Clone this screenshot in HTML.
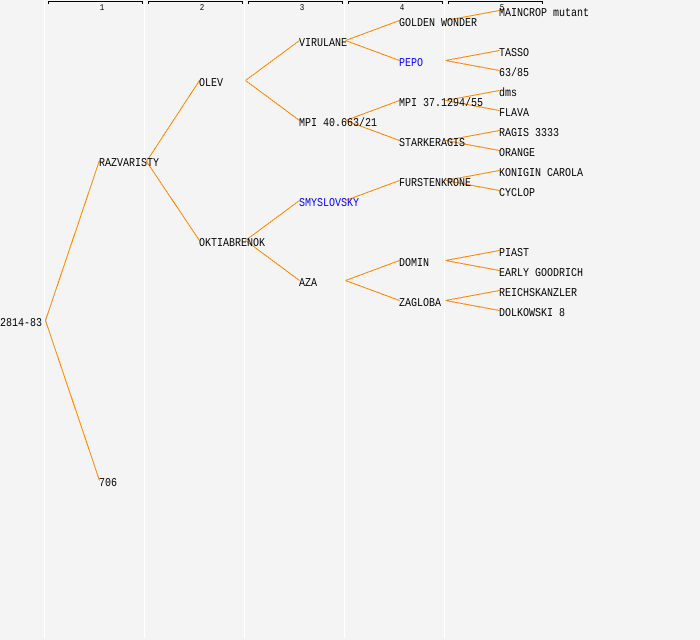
<!DOCTYPE html>
<html><head><meta charset="utf-8"><style>
html,body{margin:0;padding:0;background:#f4f4f4}
svg{display:block}
text{font-family:"Liberation Mono","DejaVu Sans Mono",monospace;font-size:12px;fill:#000;text-rendering:geometricPrecision}
.h{font-size:9px;text-anchor:middle}
.b{fill:#0000ff}
.o line{stroke:#ff8800;stroke-width:1;fill:none;shape-rendering:crispEdges}
.w rect{fill:#fff}
.k path{stroke:#000;fill:none;stroke-width:1;shape-rendering:crispEdges}
</style></head><body>
<svg width="700" height="640" viewBox="0 0 700 640" xmlns="http://www.w3.org/2000/svg">
<rect width="700" height="640" fill="#f4f4f4"/>
<g class="w"><rect x="44" y="0" width="1" height="638"/><rect x="144" y="0" width="1" height="638"/><rect x="244" y="0" width="1" height="638"/><rect x="344" y="0" width="1" height="638"/><rect x="444" y="0" width="1" height="638"/></g>
<g class="k">
<path d="M48.5 4V1.5H142.5V4"/><path d="M148.5 4V1.5H242.5V4"/><path d="M248.5 4V1.5H342.5V4"/><path d="M348.5 4V1.5H442.5V4"/><path d="M448.5 4V1.5H542.5V4"/>
</g>
<g transform="scale(.8333,1)">
<text class="h" x="122.4" y="10">1</text><text class="h" x="242.4" y="10">2</text><text class="h" x="362.4" y="10">3</text><text class="h" x="482.4" y="10">4</text><text class="h" x="602.4" y="10">5</text>
</g>
<g class="o">
<line x1="45.5" y1="320.5" x2="99.5" y2="160.5"/><line x1="45.5" y1="320.5" x2="99.5" y2="480.5"/>
<line x1="146.5" y1="161.5" x2="199.5" y2="80.5"/><line x1="146.5" y1="161.5" x2="199.5" y2="240.5"/>
<line x1="245.5" y1="80.5" x2="299.5" y2="40.5"/><line x1="245.5" y1="80.5" x2="299.5" y2="120.5"/>
<line x1="245.5" y1="240.5" x2="299.5" y2="200.5"/><line x1="245.5" y1="240.5" x2="299.5" y2="280.5"/>
<line x1="345.5" y1="40.5" x2="399.5" y2="20.5"/><line x1="345.5" y1="40.5" x2="399.5" y2="60.5"/>
<line x1="345.5" y1="120.5" x2="399.5" y2="100.5"/><line x1="345.5" y1="120.5" x2="399.5" y2="140.5"/>
<line x1="345.5" y1="200.5" x2="399.5" y2="180.5"/>
<line x1="345.5" y1="280.5" x2="399.5" y2="260.5"/><line x1="345.5" y1="280.5" x2="399.5" y2="300.5"/>
<line x1="445.5" y1="20.5" x2="499.5" y2="10.5"/>
<line x1="445.5" y1="60.5" x2="499.5" y2="50.5"/><line x1="445.5" y1="60.5" x2="499.5" y2="70.5"/>
<line x1="445.5" y1="100.5" x2="499.5" y2="90.5"/><line x1="445.5" y1="100.5" x2="499.5" y2="110.5"/>
<line x1="445.5" y1="140.5" x2="499.5" y2="130.5"/><line x1="445.5" y1="140.5" x2="499.5" y2="150.5"/>
<line x1="445.5" y1="180.5" x2="499.5" y2="170.5"/><line x1="445.5" y1="180.5" x2="499.5" y2="190.5"/>
<line x1="445.5" y1="260.5" x2="499.5" y2="250.5"/><line x1="445.5" y1="260.5" x2="499.5" y2="270.5"/>
<line x1="445.5" y1="300.5" x2="499.5" y2="290.5"/><line x1="445.5" y1="300.5" x2="499.5" y2="310.5"/>
</g>
<g transform="scale(.8333,1)">
<text x="0" y="326">2814-83</text>
<text x="118.8" y="166">RAZVARISTY</text><text x="118.8" y="486">706</text>
<text x="238.8" y="86">OLEV</text><text x="238.8" y="246">OKTIABRENOK</text>
<text x="358.8" y="46">VIRULANE</text><text x="358.8" y="126">MPI 40.663/21</text><text class="b" x="358.8" y="206">SMYSLOVSKY</text><text x="358.8" y="286">AZA</text>
<text x="478.8" y="26">GOLDEN WONDER</text><text class="b" x="478.8" y="66">PEPO</text><text x="478.8" y="106">MPI 37.1294/55</text><text x="478.8" y="146">STARKERAGIS</text><text x="478.8" y="186">FURSTENKRONE</text><text x="478.8" y="266">DOMIN</text><text x="478.8" y="306">ZAGLOBA</text>
<text x="598.8" y="16">MAINCROP mutant</text><text x="598.8" y="56">TASSO</text><text x="598.8" y="76">63/85</text><text x="598.8" y="96">dms</text><text x="598.8" y="116">FLAVA</text><text x="598.8" y="136">RAGIS 3333</text><text x="598.8" y="156">ORANGE</text><text x="598.8" y="176">KONIGIN CAROLA</text><text x="598.8" y="196">CYCLOP</text><text x="598.8" y="256">PIAST</text><text x="598.8" y="276">EARLY GOODRICH</text><text x="598.8" y="296">REICHSKANZLER</text><text x="598.8" y="316">DOLKOWSKI 8</text>
</g>
</svg>
</body></html>
